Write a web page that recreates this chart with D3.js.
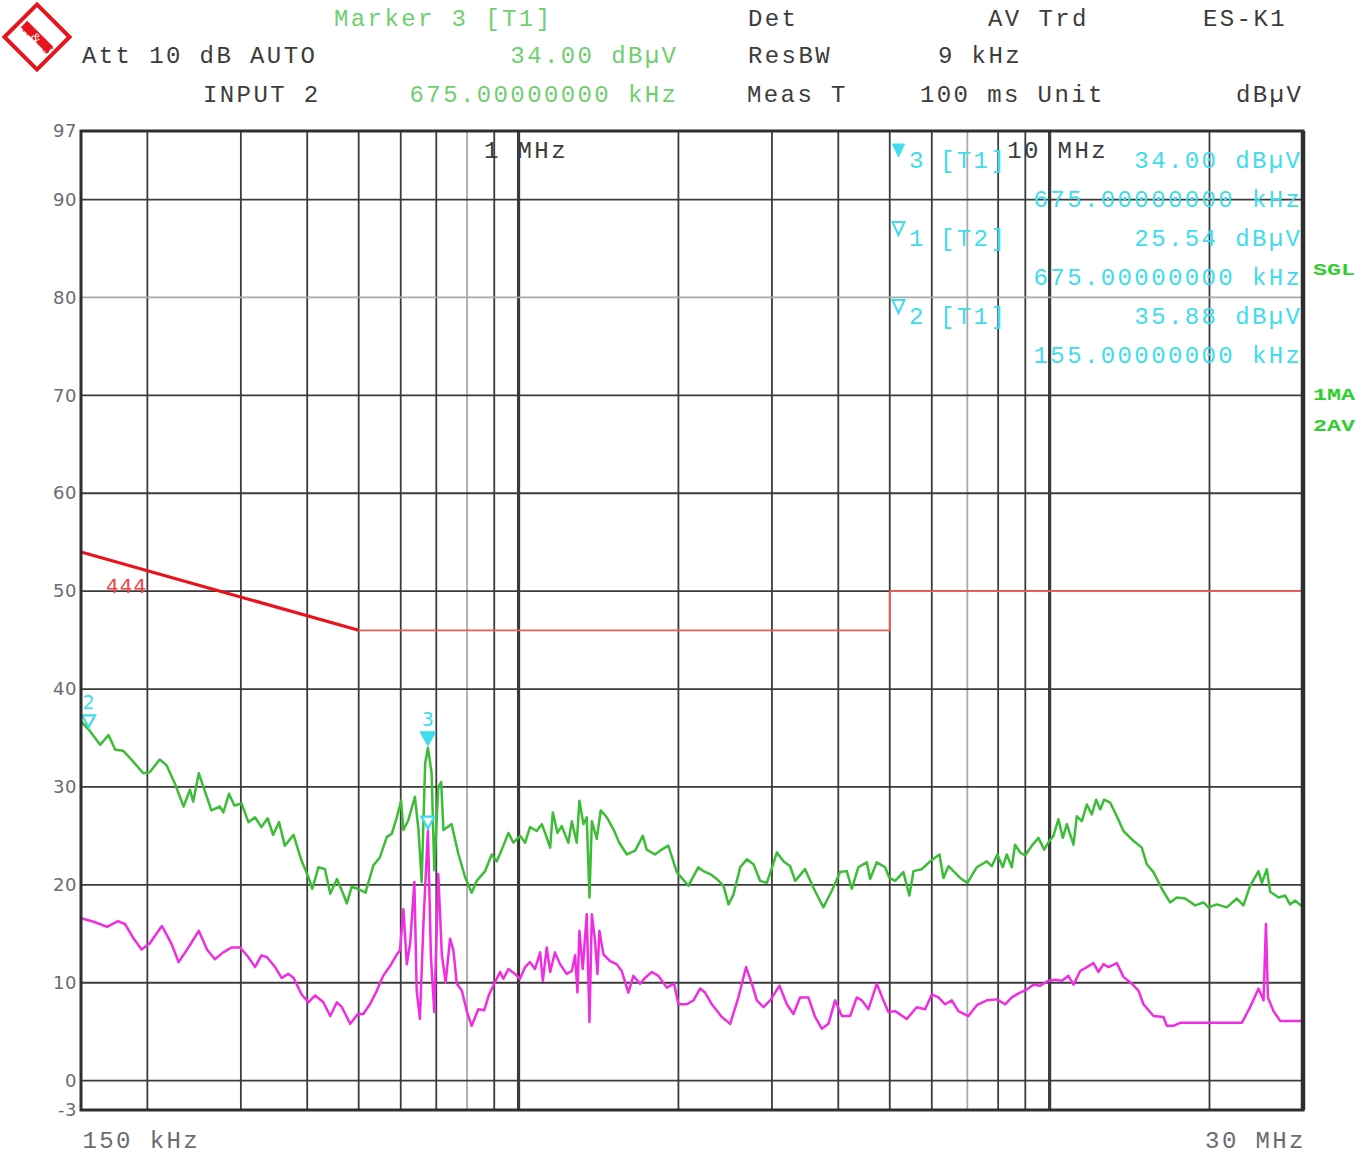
<!DOCTYPE html>
<html>
<head>
<meta charset="utf-8">
<title>ES-K1 conducted emission scan</title>
<script src="https://cdn.jsdelivr.net/npm/d3@7"></script>
<style>
  html, body { margin: 0; padding: 0; background: #ffffff; }
  svg { display: block; }
  .mono { font-family: "Liberation Mono", "DejaVu Sans Mono", monospace; font-size: 24px; letter-spacing: 2.4px; }
</style>
</head>
<body>
<svg id="chart" width="1367" height="1154"></svg>
<script>
// ---- Sweep data: frequency in kHz, level in dBµV ----
// Trace 1 (max peak)
const t1Freq = [150,155,163,169,174,180,188,196.5,202,211,217.5,225.5,234,240.6,244,250,255,264,274,278,285,291.6,301,310,319,328,337,345,354,363,377,390,402,409,420,432,442,455,465,475,485,498,515,533,548,565,577,590,601,607,620,638,648,657,667,675,686,694,706,715,722,748,770,793,816,834,865,890,910,930,957,978,1007,1029,1051,1082,1106,1122,1147,1160,1184,1206,1241,1260,1287,1302,1325,1344,1360,1374,1404,1428,1466,1508,1548,1599,1658,1714,1743,1807,1861,1914,1986,2088,2181,2229,2295,2362,2432,2485,2539,2614,2691,2770,2851,2935,3065,3154,3247,3318,3464,3591,3750,3889,4032,4150,4242,4364,4527,4592,4727,4901,4993,5118,5305,5445,5541,5746,5957,6203,6311,6449,6784,7002,7293,7616,7782,7974,8163,8305,8487,8610,8800,8993,9258,9527,9765,9990,10167,10389,10590,10775,11090,11251,11500,11752,12009,12236,12449,12668,13002,13384,13773,14382,14913,15243,15688,16264,16859,17359,17995,18791,19484,19910,20643,21557,22516,23171,23854,24737,25098,25648,26022,26972,27762,28368,28990,29710,30000];
const t1Level = [36.7,35.88,34.3,35.3,33.8,33.7,32.6,31.4,31.5,32.8,32.2,30.3,28.0,29.7,28.5,31.4,30.0,27.6,28.0,27.4,29.3,28.1,28.3,26.4,26.9,25.9,26.8,25.1,26.4,24.0,25.1,22.5,20.8,19.6,21.8,21.6,19.1,20.6,19.4,18.1,19.8,19.6,19.2,22.0,22.8,24.9,25.2,26.9,28.6,25.6,26.6,29.0,25.6,20.3,32.4,34.00,31.4,21.5,30.0,30.5,25.6,26.2,23.2,20.8,19.2,20.4,21.4,23.1,22.4,23.6,25.3,24.3,25.0,24.3,25.9,25.5,26.2,25.3,23.8,27.4,25.3,26.0,24.3,26.5,24.3,28.6,26.2,26.9,18.7,26.5,24.7,27.6,26.9,25.7,24.3,23.1,23.5,25.0,23.6,23.1,23.6,24.0,21.3,19.9,21.8,21.4,21.1,20.6,19.9,18.0,19.0,21.8,22.6,22.1,20.4,20.2,23.3,22.4,21.9,20.4,21.6,19.7,17.7,19.4,21.3,21.4,19.6,21.8,22.3,20.6,22.3,21.8,20.7,20.4,21.3,18.9,21.4,21.6,22.4,23.1,20.7,21.9,20.7,20.2,21.8,22.4,21.9,23.1,21.8,23.1,21.8,24.1,23.3,23.0,24.0,24.8,23.6,24.5,25.0,26.7,24.8,26.2,24.1,27.0,26.5,28.2,27.2,28.7,27.7,28.7,28.4,27.0,25.5,24.5,23.8,22.1,21.3,19.6,18.2,18.7,18.6,17.9,18.2,17.7,18.0,17.7,18.6,17.9,19.9,21.4,20.2,21.6,19.3,18.7,18.9,18.0,18.4,17.9,18.0];

// Trace 2 (average)
const t2Freq = [150,159,168,176,181.5,188,195,202,213,222,229,239,250,259,268,278,288,299,310,319,328,336,348,358,368.5,377,390.5,402,414,429,442,455,465,482,498,510,525,541,556,573,590,598,607,616,625,636.5,643,652,662,675,684,694,706,717,729,743,754,765,782,799,816,840,862,880,900,923,936,957,985,1006,1029,1051,1074,1098,1111,1130,1147,1171,1197,1232,1260,1278,1291,1302,1321,1344,1360,1374,1393,1408,1420,1445,1487,1530,1564,1610,1645,1694,1731,1782,1834,1902,1963,2000,2074,2135,2197,2245,2312,2414,2503,2594,2682,2750,2810,2892,2977,3100,3200,3293,3389,3514,3618,3725,3833,3945,4062,4211,4334,4429,4559,4727,4864,4971,5118,5383,5622,5829,6000,6175,6357,6544,6733,7032,7293,7616,7954,8245,8487,8800,9058,9320,9596,9948,10242,10544,10850,11090,11417,11752,12092,12358,12631,12908,13384,13773,14283,14700,15021,15688,16381,16622,17100,17610,18929,20344,21867,23011,23854,24737,25280,25548,25770,26400,27172,28990,30000];
const t2Level = [16.6,16.2,15.7,16.3,16.0,14.6,13.4,14.0,15.8,14.0,12.1,13.6,15.3,13.4,12.4,13.1,13.6,13.6,12.6,11.6,12.8,12.6,11.6,10.5,10.9,10.5,8.8,8.0,8.7,8.0,6.6,8.0,7.5,5.8,6.8,6.8,7.8,9.2,10.7,11.7,12.9,13.3,17.5,11.9,14.0,20.3,9.2,6.3,16.0,25.54,12.6,7.0,21.1,12.9,10.0,14.5,13.3,9.9,9.2,7.1,5.6,7.3,7.2,8.8,9.9,11.1,10.4,11.4,10.9,10.4,11.6,12.1,11.4,13.1,10.2,13.6,11.1,13.1,11.9,10.9,11.2,12.8,9.0,15.3,11.4,17.0,6.0,17.0,14.3,10.9,15.3,12.9,12.2,11.9,11.2,9.0,10.7,9.9,10.5,11.1,10.7,9.5,9.9,7.8,7.8,8.2,9.4,9.0,7.8,6.5,5.8,8.5,11.6,9.9,8.2,7.5,8.2,9.7,7.8,6.8,8.5,8.5,6.5,5.3,5.8,8.2,6.6,6.6,8.5,8.2,7.3,9.9,8.2,7.0,7.1,6.3,7.5,7.3,8.8,8.5,7.8,8.2,7.1,6.6,7.7,8.2,8.3,7.8,8.5,9.0,9.3,9.8,9.7,10.2,10.3,10.2,10.7,9.8,11.2,11.6,12.0,11.1,11.9,11.6,12.0,10.6,9.9,9.2,7.8,6.6,6.5,5.6,5.6,5.9,5.9,5.9,5.9,5.9,7.5,9.4,8.2,16.0,8.5,7.1,6.1,6.1,6.1];

// Limit line "444"
const limitFreq = [150, 500, 5000, 5000, 30000];
const limitLevel = [54, 46, 46, 50, 50];

// Markers
const markerIds = [3, 1, 2];
const markerTrace = ["T1", "T2", "T1"];
const markerFreq = [675, 675, 155];
const markerLevel = [34.00, 25.54, 35.88];
const activeMarker = 3;

// Grid and tick values
const xGridKHz = [200,300,400,500,600,700,800,900,1000,2000,3000,4000,5000,6000,7000,8000,9000,10000,20000];
const xDecadeKHz = [1000, 10000];
const xSpanLabels = [150, 30000];
const yGridDb = [0,10,20,30,40,50,60,70,80,90];
const yTickLabels = [97,90,80,70,60,50,40,30,20,10,0,-3];

// Instrument settings text
const headerLeft = [["Att 10 dB AUTO", 82, 63], ["INPUT 2", 203, 102]];
const headerRight = [
  ["Det", 748, 26], ["AV Trd", 988, 26], ["ES-K1", 1203, 26],
  ["ResBW", 748, 63], ["9 kHz", 938, 63],
  ["Meas T", 747, 102], ["100 ms Unit", 920, 102], ["dBµV", 1236, 102]
];
const statusFlags = [["SGL", 275], ["1MA", 400], ["2AV", 431]];

// ---- Layout ----
const W = 1367, H = 1154;
const plot = { left: 81, right: 1303, top: 131, bottom: 1110 };
const CH = 16.8;  // monospace cell width

const x = d3.scaleLog().domain([150, 30000]).range([plot.left, plot.right]);
const y = d3.scaleLinear().domain([-3, 97]).range([plot.bottom, plot.top]);

const C = {
  grid: "#3b3b3b", gridLight: "#a9a9a9", text: "#3c3c3c", axisText: "#6c6b72",
  t1: "#3dbd37", t2: "#ee2ee0", limit: "#e8141c", limitThin: "#f25c5c",
  cyan: "#3fdcec", green: "#6fcf6f", flag: "#2fcf2f"
};
const lightGridX = [800, 7000];
const lightGridY = [80];

const svg = d3.select("#chart");
svg.append("rect").attr("width", W).attr("height", H).attr("fill", "#fff");

// ---- Logo ----
const logo = svg.append("g").attr("transform", "translate(37,37)");
logo.append("rect").attr("x", -23).attr("y", -23).attr("width", 46).attr("height", 46)
  .attr("transform", "rotate(45)").attr("fill", "#fff").attr("stroke", "#e8141c").attr("stroke-width", 4);
logo.append("line").attr("x1", -13).attr("y1", -13).attr("x2", 13).attr("y2", 13)
  .attr("stroke", "#e8141c").attr("stroke-width", 9);
logo.append("text").attr("x", -12).attr("y", -4).attr("transform", "rotate(45,-12,-4)")
  .attr("font-family", "Liberation Serif").attr("font-style", "italic").attr("font-size", 14).attr("fill", "#e8141c").attr("text-anchor", "middle").text("R");
logo.append("text").attr("x", 0).attr("y", 5).attr("transform", "rotate(45,0,0)")
  .attr("font-family", "Liberation Serif").attr("font-size", 12).attr("fill", "#fff").attr("text-anchor", "middle").text("&");
logo.append("text").attr("x", 11).attr("y", 17).attr("transform", "rotate(45,11,12)")
  .attr("font-family", "Liberation Serif").attr("font-style", "italic").attr("font-size", 14).attr("fill", "#e8141c").attr("text-anchor", "middle").text("S");

// ---- Header ----
const header = svg.append("g").attr("class", "mono");
headerLeft.concat(headerRight).forEach(([t, tx, ty]) => {
  header.append("text").attr("x", tx).attr("y", ty).attr("fill", C.text).text(t);
});
const iActive = markerIds.indexOf(activeMarker);
header.append("text").attr("x", 334).attr("y", 26).attr("fill", C.green)
  .text(`Marker ${activeMarker} [${markerTrace[iActive]}]`);
header.append("text").attr("x", 676 + 2.4).attr("y", 63).attr("text-anchor", "end").attr("fill", C.green)
  .text(`${markerLevel[iActive].toFixed(2)} dBµV`);
header.append("text").attr("x", 676 + 2.4).attr("y", 102).attr("text-anchor", "end").attr("fill", C.green)
  .text(`${markerFreq[iActive].toFixed(8)} kHz`);

// ---- Grid ----
const grid = svg.append("g");
grid.selectAll("line.gx").data(xGridKHz).join("line").attr("class", "gx")
  .attr("x1", d => x(d)).attr("x2", d => x(d))
  .attr("y1", plot.top).attr("y2", plot.bottom)
  .attr("stroke", d => lightGridX.includes(d) ? C.gridLight : C.grid)
  .attr("stroke-width", d => xDecadeKHz.includes(d) ? 3.2 : 1.8);
grid.selectAll("line.gy").data(yGridDb).join("line").attr("class", "gy")
  .attr("x1", plot.left).attr("x2", plot.right)
  .attr("y1", d => y(d)).attr("y2", d => y(d))
  .attr("stroke", d => lightGridY.includes(d) ? C.gridLight : C.grid)
  .attr("stroke-width", 1.8);

// Decade labels inside the top of the grid
svg.append("g").attr("class", "mono").selectAll("text").data(xDecadeKHz).join("text")
  .attr("x", d => x(d) - (String(d / 1000).length + 1) * CH + (d >= 10000 ? 8 : -1))
  .attr("y", 158).attr("fill", C.text)
  .text(d => `${d / 1000} MHz`);

// ---- Limit line ----
svg.append("clipPath").attr("id", "plotClip").append("rect")
  .attr("x", plot.left).attr("y", plot.top).attr("width", plot.right - plot.left).attr("height", plot.bottom - plot.top);
const limitPts = d3.zip(limitFreq, limitLevel);
const line = d3.line().x(d => x(d[0])).y(d => y(d[1]));
svg.append("path").datum(limitPts.slice(1)).attr("d", line)
  .attr("fill", "none").attr("stroke", C.limitThin).attr("stroke-width", 1.8);
svg.append("path").datum(limitPts.slice(0, 2)).attr("d", line)
  .attr("fill", "none").attr("stroke", C.limit).attr("stroke-width", 3.2);
svg.append("text").attr("x", 106).attr("y", 593)
  .attr("font-family", "DejaVu Sans").attr("font-size", 20).attr("letter-spacing", 1)
  .attr("fill", "#f04545").text("444");

// ---- Traces ----
const traces = svg.append("g").attr("clip-path", "url(#plotClip)");
traces.append("path").datum(d3.zip(t1Freq, t1Level)).attr("d", line)
  .attr("fill", "none").attr("stroke", C.t1).attr("stroke-width", 2.5).attr("stroke-linejoin", "round");
traces.append("path").datum(d3.zip(t2Freq, t2Level)).attr("d", line)
  .attr("fill", "none").attr("stroke", C.t2).attr("stroke-width", 2.5).attr("stroke-linejoin", "round");

// ---- Markers on the traces ----
const tri = (cx, tipY, w, h) => `M${cx - w / 2},${tipY - h}L${cx + w / 2},${tipY - h}L${cx},${tipY}Z`;
const mk = svg.append("g");
markerIds.forEach((id, i) => {
  const cx = x(markerFreq[i]), cy = y(markerLevel[i]) - 2;
  const filled = id === activeMarker;
  mk.append("path").attr("d", tri(cx, cy, filled ? 16 : 13, filled ? 14 : 12))
    .attr("fill", filled ? C.cyan : "#fff").attr("stroke", C.cyan).attr("stroke-width", filled ? 1 : 2.2);
  if (markerTrace[i] === "T1") {
    mk.append("text").attr("x", cx).attr("y", cy - (filled ? 14 : 12) - 6)
      .attr("font-family", "DejaVu Sans").attr("font-size", 19).attr("fill", C.cyan)
      .attr("text-anchor", "middle").text(id);
  }
});

// ---- Marker table (upper right) ----
const table = svg.append("g").attr("class", "mono").attr("fill", C.cyan);
markerIds.forEach((id, i) => {
  const base = 168 + i * 78;
  const filled = id === activeMarker;
  table.append("path").attr("d", tri(898.5, base - 11, 12, 13))
    .attr("fill", filled ? C.cyan : "#fff").attr("stroke", C.cyan).attr("stroke-width", filled ? 1 : 2);
  table.append("text").attr("x", 909).attr("y", base).text(id);
  table.append("text").attr("x", 940).attr("y", base).text(`[${markerTrace[i]}]`);
  table.append("text").attr("x", 1302.4).attr("y", base).attr("text-anchor", "end")
    .text(`${markerLevel[i].toFixed(2)} dBµV`);
  table.append("text").attr("x", 1302.4).attr("y", base + 39).attr("text-anchor", "end")
    .text(`${markerFreq[i].toFixed(8)} kHz`);
});

// ---- Frame ----
svg.append("rect").attr("x", plot.left).attr("y", plot.top)
  .attr("width", plot.right - plot.left).attr("height", plot.bottom - plot.top)
  .attr("fill", "none").attr("stroke", "#2e2e2e").attr("stroke-width", 3);
svg.append("line").attr("x1", plot.right).attr("x2", plot.right).attr("y1", plot.top).attr("y2", plot.bottom)
  .attr("stroke", "#2e2e2e").attr("stroke-width", 4.5);

// ---- Axes ----
const yAxis = svg.append("g").attr("transform", `translate(${plot.left},0)`)
  .call(d3.axisLeft(y).tickValues(yTickLabels).tickSize(0).tickPadding(4).tickFormat(d => String(d)));
yAxis.select(".domain").remove();
yAxis.selectAll("text").attr("font-family", "DejaVu Sans").attr("font-size", 18)
  .attr("letter-spacing", 0.5).attr("fill", C.axisText);

const xAxis = svg.append("g").attr("transform", `translate(0,${plot.bottom})`)
  .call(d3.axisBottom(x).tickValues(xSpanLabels).tickSize(0).tickPadding(0)
    .tickFormat(d => d >= 1000 ? `${d / 1000} MHz` : `${d} kHz`));
xAxis.select(".domain").remove();
xAxis.selectAll("text").attr("class", "mono").attr("font-size", null)
  .attr("font-family", null).attr("fill", C.axisText).attr("dy", null).attr("y", 38)
  .attr("text-anchor", (d, i) => i === 0 ? "start" : "end")
  .attr("dx", (d, i) => i === 0 ? 1 : 2.4);

// ---- Status flags ----
svg.append("g").selectAll("text").data(statusFlags).join("text")
  .attr("x", 1313).attr("y", d => d[1])
  .attr("font-family", "Liberation Mono").attr("font-weight", "bold").attr("font-size", 16)
  .attr("textLength", 42).attr("lengthAdjust", "spacingAndGlyphs")
  .attr("fill", C.flag).text(d => d[0]);
</script>
</body>
</html>
